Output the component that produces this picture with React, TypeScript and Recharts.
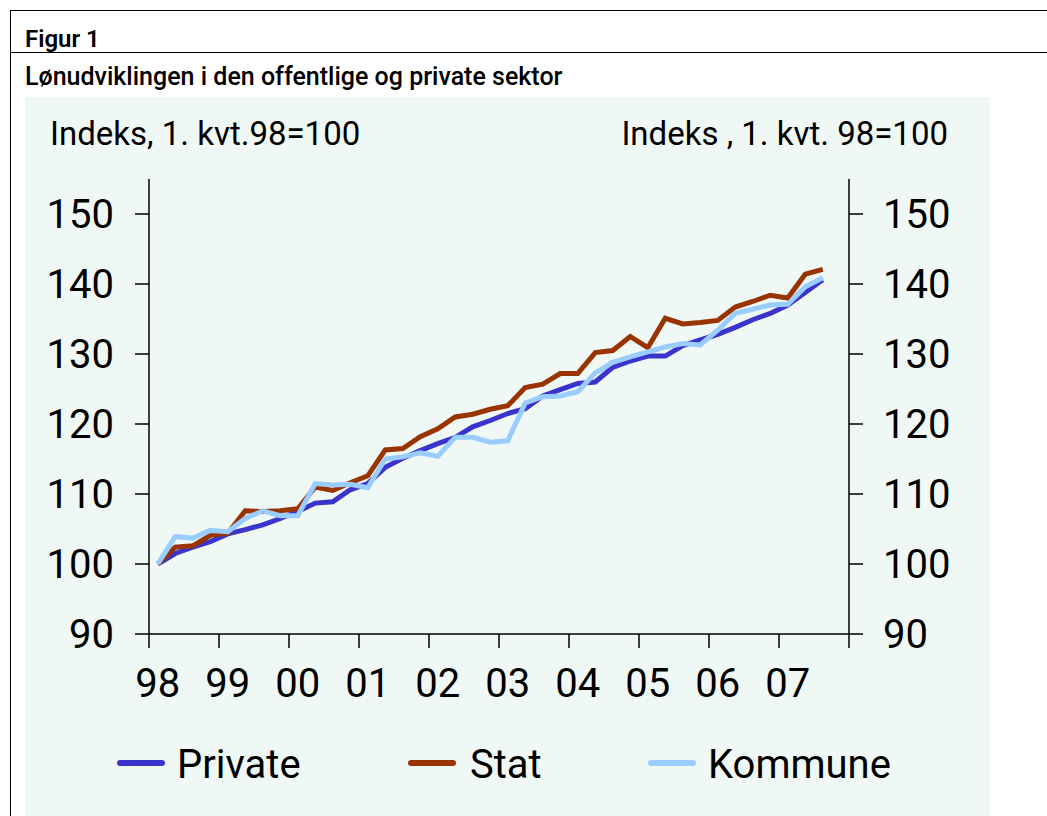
import React from 'react';
import { LineChart, Line, XAxis, YAxis } from 'recharts';

// Quarterly categories 1998K1 .. 2007K3
const quarters = [
  '98K1', '98K2', '98K3', '98K4', '99K1', '99K2', '99K3', '99K4',
  '00K1', '00K2', '00K3', '00K4', '01K1', '01K2', '01K3', '01K4',
  '02K1', '02K2', '02K3', '02K4', '03K1', '03K2', '03K3', '03K4',
  '04K1', '04K2', '04K3', '04K4', '05K1', '05K2', '05K3', '05K4',
  '06K1', '06K2', '06K3', '06K4', '07K1', '07K2', '07K3',
];

const yearLabels = ['98', '99', '00', '01', '02', '03', '04', '05', '06', '07'];

const privateValues = [
  100, 101.5, 102.4, 103.2, 104.3, 104.9, 105.6, 106.5, 107.5, 108.7,
  108.9, 110.6, 111.5, 113.8, 115.1, 116.2, 117.2, 118.1, 119.6, 120.5,
  121.5, 122.2, 124.0, 124.9, 125.8, 126.0, 128.1, 129.0, 129.7, 129.7,
  131.2, 132.0, 132.8, 133.8, 134.9, 135.8, 137.0, 138.8, 140.6,
];

const statValues = [
  100, 102.4, 102.6, 104.1, 104.4, 107.6, 107.5, 107.6, 107.9, 111.0,
  110.5, 111.6, 112.6, 116.3, 116.5, 118.2, 119.3, 121.0, 121.4, 122.1,
  122.6, 125.2, 125.7, 127.2, 127.2, 130.2, 130.5, 132.5, 130.9, 135.1,
  134.3, 134.5, 134.8, 136.7, 137.5, 138.4, 138.0, 141.4, 142.1,
];

const kommuneValues = [
  100, 103.9, 103.7, 104.8, 104.6, 106.5, 107.6, 106.9, 106.9, 111.5,
  111.3, 111.4, 110.9, 115.0, 115.3, 115.9, 115.4, 118.1, 118.1, 117.4,
  117.6, 123.0, 123.9, 124.0, 124.6, 127.3, 128.8, 129.6, 130.3, 131.0,
  131.5, 131.3, 133.4, 135.8, 136.4, 137.0, 137.1, 139.6, 140.9,
];

const yTicks = [90, 100, 110, 120, 130, 140, 150];
const xTicks = [0, 4, 8, 12, 16, 20, 24, 28, 32, 36, 40];

const COLORS = { private: '#3a33cc', stat: '#993300', kommune: '#99ccff' };
const FONT = 'Roboto, "Open Sans", sans-serif';

const data = quarters.map((q, i) => ({
  q,
  x: i + 0.5,
  private: privateValues[i],
  stat: statValues[i],
  kommune: kommuneValues[i],
}));

const PLOT_W = 700;
const HALF_Q = PLOT_W / 40 / 2;

const XTick = (props: any) => {
  const { x, y, payload } = props;
  const idx = Math.round(payload.value / 4);
  const label = yearLabels[idx];
  if (!label) return null;
  return (
    <text x={x + HALF_Q} y={y} dy="0.71em" textAnchor="middle" fontSize={40} fontFamily={FONT} fill="#000">
      {label}
    </text>
  );
};

const legendItems = [
  { name: 'Private', color: COLORS.private, lineX: 117, textX: 177 },
  { name: 'Stat', color: COLORS.stat, lineX: 408, textX: 470 },
  { name: 'Kommune', color: COLORS.kommune, lineX: 648, textX: 708 },
];

export default function App() {
  return (
    <div style={{ position: 'absolute', left: 0, top: 0, width: 1047, height: 816, background: '#fff', overflow: 'hidden', fontFamily: FONT }}>
      {/* frame lines */}
      <div style={{ position: 'absolute', left: 10, top: 10, width: 1037, height: 1, background: '#000' }} />
      <div style={{ position: 'absolute', left: 10, top: 52, width: 1037, height: 1, background: '#000' }} />
      <div style={{ position: 'absolute', left: 10, top: 10, width: 1, height: 806, background: '#000' }} />
      <div style={{ position: 'absolute', left: 25, top: 27, fontSize: 24, fontWeight: 600, lineHeight: 1, color: '#000' }}>Figur 1</div>
      <div style={{ position: 'absolute', left: 25, top: 64, fontSize: 25, fontWeight: 500, lineHeight: 1, color: '#000', whiteSpace: 'nowrap' }}>
        Lønudviklingen i den offentlige og private sektor
      </div>
      {/* panel */}
      <div style={{ position: 'absolute', left: 25, top: 97, width: 965, height: 719, background: '#f0f8f5' }} />
      <div style={{ position: 'absolute', left: 50, top: 117, fontSize: 33, lineHeight: 1, color: '#000', whiteSpace: 'nowrap' }}>
        Indeks, 1. kvt.98=100
      </div>
      <div style={{ position: 'absolute', right: 99, top: 117, fontSize: 33, lineHeight: 1, color: '#000', whiteSpace: 'nowrap', textAlign: 'right' }}>
        Indeks , 1. kvt. 98=100
      </div>
      <div style={{ position: 'absolute', left: 0, top: 0 }}>
        <LineChart width={1047} height={816} data={data} margin={{ top: 179, right: 0, bottom: 0, left: 0 }}>
          <XAxis
            dataKey="x"
            type="number"
            domain={[0, 40]}
            ticks={xTicks}
            interval={0}
            tickSize={14}
            tickMargin={21}
            height={182}
            stroke="#000"
            strokeWidth={1.5}
            tick={<XTick />}
            allowDataOverflow
          />
          <YAxis
            yAxisId="left"
            orientation="left"
            domain={[90, 155]}
            ticks={yTicks}
            interval={0}
            width={149}
            tickSize={14}
            tickMargin={21}
            stroke="#000"
            strokeWidth={1.5}
            tick={{ fontSize: 40, fontFamily: FONT, fill: '#000' }}
            allowDataOverflow
          />
          <YAxis
            yAxisId="right"
            orientation="right"
            domain={[90, 155]}
            ticks={yTicks}
            interval={0}
            width={198}
            tickSize={14}
            tickMargin={20}
            stroke="#000"
            strokeWidth={1.5}
            tick={{ fontSize: 40, fontFamily: FONT, fill: '#000' }}
            allowDataOverflow
          />
          <Line yAxisId="left" type="linear" dataKey="private" stroke={COLORS.private} strokeWidth={5} dot={false} isAnimationActive={false} />
          <Line yAxisId="left" type="linear" dataKey="stat" stroke={COLORS.stat} strokeWidth={5} dot={false} isAnimationActive={false} />
          <Line yAxisId="left" type="linear" dataKey="kommune" stroke={COLORS.kommune} strokeWidth={5} dot={false} isAnimationActive={false} />
        </LineChart>
      </div>
      {/* legend */}
      {legendItems.map((it) => (
        <React.Fragment key={it.name}>
          <div style={{ position: 'absolute', left: it.lineX, top: 760, width: 48, height: 6, borderRadius: 3, background: it.color }} />
          <div style={{ position: 'absolute', left: it.textX, top: 745, fontSize: 40, lineHeight: 1, color: '#000', whiteSpace: 'nowrap' }}>{it.name}</div>
        </React.Fragment>
      ))}
    </div>
  );
}
